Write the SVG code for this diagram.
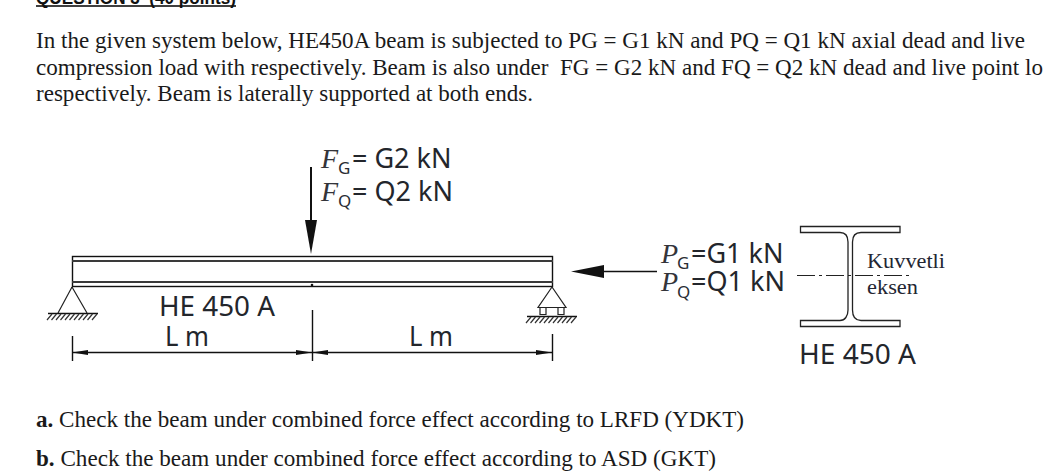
<svg xmlns="http://www.w3.org/2000/svg" width="1044" height="476" viewBox="0 0 1044 476">
<style>
.b{font-family:"Liberation Serif","Times New Roman",serif;font-size:23px;fill:#1a1a1a}
.c{font-family:"Noto Sans","Open Sans",sans-serif;font-size:27px;fill:#23262c}
.i{font-family:"Liberation Serif",serif;font-style:italic;font-size:28px;fill:#33343a}
.s{font-family:"Noto Sans",sans-serif;font-size:17px;fill:#2a2d33}
.k{font-family:"Liberation Serif",serif;font-size:22px;fill:#232632}
.l{fill:none;stroke:#111;stroke-width:1.400}
.t{fill:none;stroke:#222;stroke-width:1.200}
.h{stroke:#333;stroke-width:1.200}
</style>
<defs>
<g id="hatch" class="h"><path d="M5 0l-5 6M9.500 0l-5 6M14 0l-5 6M18.500 0l-5 6M23 0l-5 6M27.500 0l-5 6M32 0l-5 6M36.500 0l-5 6M41 0l-5 6M45.500 0l-5 6M50 0l-5 6"/></g>
</defs>
<rect width="1044" height="476" fill="#fff"/>
<g id="question-text">
<text x="36" y="4" font-family="Liberation Sans,sans-serif" font-weight="700" font-size="18" fill="#111" textLength="200" lengthAdjust="spacingAndGlyphs" xml:space="preserve">QUESTION 3  (40 points)</text>
<rect x="36" y="5.200" width="200" height="1.600" fill="#111"/>
<text class="b" x="36" y="48" textLength="989" lengthAdjust="spacingAndGlyphs">In the given system below, HE450A beam is subjected to PG = G1 kN and PQ = Q1 kN axial dead and live</text>
<text class="b" x="36" y="75" textLength="1007" lengthAdjust="spacingAndGlyphs" xml:space="preserve">compression load with respectively. Beam is also under  FG = G2 kN and FQ = Q2 kN dead and live point lo</text>
<text class="b" x="36" y="101" textLength="497" lengthAdjust="spacingAndGlyphs">respectively. Beam is laterally supported at both ends.</text>
<text class="b" x="36" y="427" textLength="708" lengthAdjust="spacingAndGlyphs"><tspan font-weight="700">a.</tspan> Check the beam under combined force effect according to LRFD (YDKT)</text>
<text class="b" x="36" y="466" textLength="680" lengthAdjust="spacingAndGlyphs"><tspan font-weight="700">b.</tspan> Check the beam under combined force effect according to ASD (GKT)</text>
</g>
<g id="beam">
<rect class="l" x="72.500" y="256.500" width="480" height="30"/>
<path d="M72 261h481M72 282h481" stroke="#3a3a3a" stroke-width="2" fill="none"/>
<circle cx="312" cy="285" r="1.300" fill="#111"/>
</g>
<g id="support-left">
<path class="t" d="M72 287L58 313M72 287L87 313"/>
<path class="l" d="M48 313.500H98"/>
<use href="#hatch" x="47" y="314"/>
</g>
<g id="support-right">
<path class="t" d="M552 287L538 307.500H566ZM540 307.500v7h6v-7M558 307.500v7h6v-7"/>
<path class="l" d="M527 316.500H577"/>
<use href="#hatch" x="526" y="317"/>
</g>
<g id="label-beam">
<text class="c" x="159" y="316" textLength="116" lengthAdjust="spacingAndGlyphs">HE 450 A</text>
<text class="c" x="165" y="346" textLength="44" lengthAdjust="spacingAndGlyphs">L m</text>
<text class="c" x="409" y="346" textLength="44" lengthAdjust="spacingAndGlyphs">L m</text>
</g>
<g id="label-f">
<text class="c"><tspan class="i" x="321" y="168">F</tspan><tspan class="s" x="338" y="174">G</tspan><tspan x="352" y="168">= G2 kN</tspan></text>
<text class="c"><tspan class="i" x="321" y="201">F</tspan><tspan class="s" x="338" y="207">Q</tspan><tspan x="352" y="201">= Q2 kN</tspan></text>
</g>
<g id="label-p">
<text class="c"><tspan class="i" x="661" y="263">P</tspan><tspan class="s" x="677" y="269">G</tspan><tspan x="691" y="263">=G1 kN</tspan></text>
<text class="c"><tspan class="i" x="661" y="291">P</tspan><tspan class="s" x="677" y="298">Q</tspan><tspan x="691" y="291">=Q1 kN</tspan></text>
</g>
<g id="section">
<path d="M800.500 226.500H900V232.500H861C855 232.500 852.500 236 852.500 242V310C852.500 316 855 320.500 861 320.500H900V326.500H800.500V320.500H840C845 320.500 848 316 848 310V242C848 236 845 232.500 840 232.500H800.500Z" fill="#fff" stroke="#222" stroke-width="1.300"/>
<text class="k" x="867" y="268" textLength="78" lengthAdjust="spacingAndGlyphs">Kuvvetli</text>
<text class="k" x="867" y="294" textLength="51" lengthAdjust="spacingAndGlyphs">eksen</text>
<text class="c" x="799" y="364" textLength="117" lengthAdjust="spacingAndGlyphs">HE 450 A</text>
</g>
<g id="connectors">
<path d="M311 167V222" stroke="#111" stroke-width="2" fill="none"/>
<path d="M305 220H317L311 254Z" fill="#111"/>
<path d="M657 271.500H600" stroke="#111" stroke-width="1.600" fill="none"/>
<path d="M571 271.500L604 265V278Z" fill="#111"/>
<path d="M797 275.500H913" stroke="#222" stroke-width="1.200" fill="none" stroke-dasharray="18 4 3 4"/>
<path class="l" d="M72.500 336V361M312.500 310V361M552.500 334V361M72 352.500H552"/>
<path d="M72 352.500l16-2.500v5ZM312 352.500l-16-2.500v5ZM312 352.500l16-2.500v5ZM552 352.500l-16-2.500v5Z" fill="#111"/>
</g>
</svg>
